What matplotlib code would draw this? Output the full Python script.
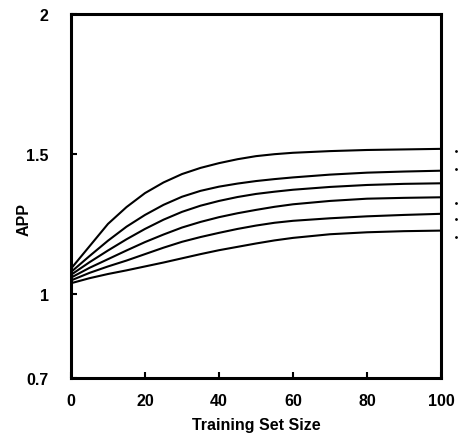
import matplotlib
matplotlib.use("Agg")
import matplotlib.pyplot as plt

plt.rcParams["font.family"] = ["Liberation Sans", "DejaVu Sans"]
plt.rcParams["font.weight"] = "bold"

# training set size where the curves were read
sizes = [0, 5, 10, 15, 20, 25, 30, 35, 40, 45, 50, 55, 60, 70, 80, 90, 100]

# APP curves, top to bottom
app_1 = [1.090, 1.170, 1.250, 1.310, 1.360, 1.398, 1.428, 1.450, 1.467, 1.481,
         1.492, 1.499, 1.504, 1.510, 1.514, 1.516, 1.518]
app_2 = [1.078, 1.135, 1.190, 1.240, 1.282, 1.318, 1.347, 1.368, 1.383, 1.394,
         1.403, 1.410, 1.416, 1.426, 1.433, 1.437, 1.440]
app_3 = [1.068, 1.113, 1.155, 1.195, 1.232, 1.265, 1.293, 1.315, 1.332, 1.346,
         1.357, 1.365, 1.372, 1.382, 1.389, 1.393, 1.395]
app_4 = [1.058, 1.093, 1.124, 1.155, 1.185, 1.212, 1.237, 1.257, 1.274, 1.288,
         1.300, 1.311, 1.320, 1.332, 1.340, 1.343, 1.345]
app_5 = [1.048, 1.075, 1.098, 1.119, 1.142, 1.165, 1.186, 1.203, 1.218, 1.232,
         1.244, 1.254, 1.261, 1.270, 1.277, 1.282, 1.286]
app_6 = [1.038, 1.056, 1.071, 1.084, 1.098, 1.112, 1.127, 1.142, 1.156, 1.168,
         1.180, 1.191, 1.200, 1.213, 1.220, 1.224, 1.226]
curves = [app_1, app_2, app_3, app_4, app_5, app_6]

# cut-off curve labels at the right edge
label_y = [1.509, 1.445, 1.325, 1.266, 1.203]

xticks = [0, 20, 40, 60, 80, 100]
yticks = [0.7, 1, 1.5, 2]
ytick_labels = ["0.7", "1", "1.5", "2"]

fig = plt.figure(figsize=(4.58, 4.39), dpi=100)
ax = fig.add_axes([0.155, 0.137, 0.808, 0.829])

for ys in curves:
    ax.plot(sizes, ys, color="black", lw=1.5)

ax.plot([104] * len(label_y), label_y, "k.", ms=2, clip_on=False)

ax.set_xlim(0, 100)
ax.set_ylim(0.7, 2)
ax.set_xticks(xticks)
ax.set_xticklabels([str(t) for t in xticks])
ax.set_yticks(yticks)
ax.set_yticklabels(ytick_labels)
ax.tick_params(direction="in", length=4, width=1.5, labelsize=11.5)
ax.tick_params(axis="x", pad=11)
ax.tick_params(axis="y", pad=16)
for s in ax.spines.values():
    s.set_linewidth(2.2)

ax.set_xlabel("Training Set Size", fontsize=11.5, fontweight="bold", va="center")
ax.xaxis.set_label_coords(0.5, -0.129)
ax.set_ylabel("APP", fontsize=11.5, fontweight="bold", va="center")
ax.yaxis.set_label_coords(-0.127, 0.437)

fig.savefig("out.png", dpi=100)
